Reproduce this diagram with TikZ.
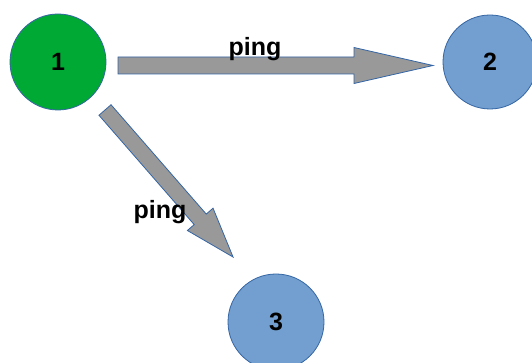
\documentclass[tikz,border=0pt]{standalone}
\usepackage{fontspec}
\setmainfont{Liberation Sans}
\usetikzlibrary{calc}
\definecolor{edgeblue}{HTML}{3465A4}
\definecolor{peergreen}{HTML}{00A933}
\definecolor{peerblue}{HTML}{729FCF}
\definecolor{arrowgray}{HTML}{999999}
\begin{document}
\begin{tikzpicture}[x=1pt,y=1pt,
  peer/.style={circle, draw=edgeblue, line width=0.8pt, minimum size=96pt, inner sep=0pt,
               font=\fontsize{25}{28}\selectfont\bfseries},
  blockarrow/.style={draw=edgeblue, line width=0.8pt, fill=arrowgray, line join=miter},
  msg/.style={font=\fontsize{25}{28}\selectfont\bfseries, inner sep=0pt}]
\useasboundingbox (0,0) rectangle (532,363);
% peers
\node[peer, fill=peergreen] (n1) at (58,301) {1};
\node[peer, fill=peerblue, minimum size=94pt] (n2) at (490,301) {2};
\node[peer, fill=peerblue] (n3) at (276,41) {3};
% arrow 1 -> 2
\coordinate (a12) at ($(n1.center)+(60,-3.5)$);
\begin{scope}[shift={(a12)}]
  \draw[blockarrow] (0,8.5) -- (236,8.5) -- (236,18) -- (315,0) -- (236,-18) -- (236,-8.5) -- (0,-8.5) -- cycle;
\end{scope}
% arrow 1 -> 3
\coordinate (a13) at ($(n1.center)+(47,-48)$);
\begin{scope}[shift={(a13)}, rotate=-48.95]
  \draw[blockarrow] (0,8) -- (145,8) -- (145,17) -- (195,0) -- (145,-17) -- (145,-8) -- (0,-8) -- cycle;
\end{scope}
% message labels
\node[msg] (p12) at (255,314) {ping};
\node[msg] (p13) at (160,151) {ping};
\end{tikzpicture}
\end{document}
